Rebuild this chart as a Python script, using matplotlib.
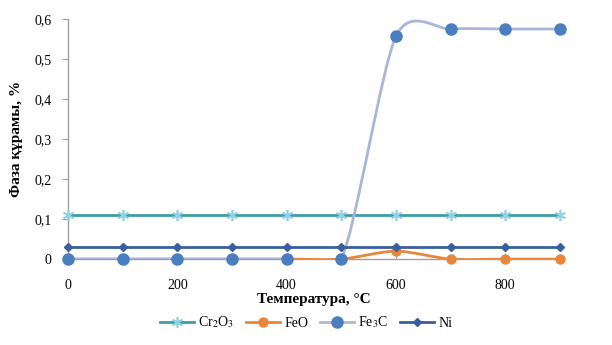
import matplotlib
matplotlib.use("Agg")
import matplotlib.pyplot as plt
import numpy as np
from matplotlib.path import Path
from matplotlib.patches import PathPatch
from matplotlib.lines import Line2D

plt.rcParams['font.family'] = ['Liberation Serif', 'DejaVu Serif']
plt.rcParams['mathtext.fontset'] = 'stix'

temperature = [0, 100, 200, 300, 400, 500, 600, 700, 800, 900]
cr2o3 = [0.11, 0.11, 0.11, 0.11, 0.11, 0.11, 0.11, 0.11, 0.11, 0.11]
feo   = [0, 0, 0, 0, 0, 0, 0.02, 0, 0, 0]
fe3c  = [0, 0, 0, 0, 0, 0, 0.557, 0.575, 0.575, 0.575]
ni    = [0.03, 0.03, 0.03, 0.03, 0.03, 0.03, 0.03, 0.03, 0.03, 0.03]

series_names = [r'Cr$_2$O$_3$', 'FeO', r'Fe$_3$C', 'Ni']
x_ticks = [0, 200, 400, 600, 800]
y_ticks = [0, 0.1, 0.2, 0.3, 0.4, 0.5, 0.6]


def smooth_path(x, y, k=0.13):
    # excel-like smoothed line as cubic bezier segments
    pts = np.column_stack([x, y]).astype(float)
    n = len(pts)
    verts = [pts[0]]
    codes = [Path.MOVETO]
    for i in range(n - 1):
        p0 = pts[max(i - 1, 0)]
        p1 = pts[i]
        p2 = pts[i + 1]
        p3 = pts[min(i + 2, n - 1)]
        verts += [p1 + (p2 - p0) * k, p2 - (p3 - p1) * k, p2]
        codes += [Path.CURVE4] * 3
    return Path(verts, codes)


fig = plt.figure(figsize=(6.12, 3.45), dpi=100)
ax = fig.add_axes([0.111, 0.249, 0.804, 0.696])

styles = [
    (cr2o3, '#3e9ea8', dict(marker=(6, 2, 0), ms=8, mec='#8fd3e3', mfc='#8fd3e3', mew=1.2), False),
    (feo,   '#e8873a', dict(marker='o', ms=6.5, mec='#e8873a', mfc='#e8873a'), True),
    (fe3c,  '#aab5dc', dict(marker='o', ms=8, mec='#4a7ebf', mfc='#4a7ebf'), True),
    (ni,    '#3a5e9e', dict(marker='D', ms=4.5, mec='#3a5e9e', mfc='#3a5e9e'), False),
]

handles = []
for z, ((vals, color, mk, smooth), name) in enumerate(zip(styles, series_names)):
    if smooth:
        patch = PathPatch(smooth_path(temperature, vals), fc='none', ec=color,
                          lw=2, zorder=3 + z)
        patch.set_clip_box(None)
        ax.add_patch(patch)
        ax.plot(temperature, vals, ls='none', zorder=3 + z, clip_on=False, **mk)
    else:
        ax.plot(temperature, vals, color=color, lw=2, zorder=3 + z, clip_on=False, **mk)
    handles.append(Line2D([], [], color=color, lw=2, label=name, **mk))

ax.set_xlim(0, 900)
ax.set_ylim(0, 0.6)
ax.set_xticks(x_ticks)
ax.set_yticks(y_ticks)
ax.set_yticklabels([('%g' % v).replace('.', ',') for v in y_ticks])
ax.tick_params(axis='both', labelsize=10, color='#a0a0a0', length=4)
ax.tick_params(axis='y', direction='out', pad=8)
ax.tick_params(axis='x', direction='in', pad=14)

for side in ['top', 'right']:
    ax.spines[side].set_visible(False)
for side in ['left', 'bottom']:
    ax.spines[side].set_color('#a0a0a0')
    ax.spines[side].set_linewidth(1)

ax.set_xlabel('Температура, °С', fontsize=11, fontweight='bold', labelpad=1)
ax.set_ylabel('Фаза құрамы, %', fontsize=11, fontweight='bold', labelpad=8)

fig.legend(handles=handles, loc='center', bbox_to_anchor=(0.5, 0.065), ncol=4,
           frameon=False, fontsize=10, handlelength=2.5, columnspacing=0.8,
           handletextpad=0.3)

fig.savefig('out.png', dpi=100)
